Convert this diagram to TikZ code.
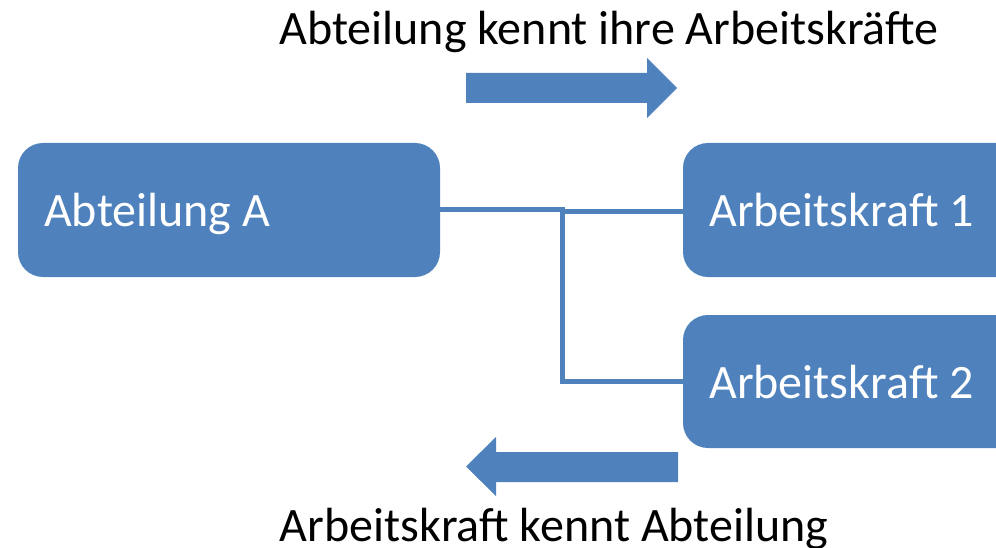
\documentclass[tikz,border=0pt]{standalone}
\usepackage{fontspec}
\setmainfont{Carlito}
\definecolor{officeblue}{HTML}{4F81BD}
\begin{document}
\begin{tikzpicture}[x=1pt,y=-1pt,
  box/.style={fill=officeblue,draw=none,rounded corners=25pt,inner sep=0pt},
  boxlabel/.style={anchor=base west,inner sep=0pt,text=white,font=\fontsize{48}{58}\selectfont},
  caption/.style={anchor=base,inner sep=0pt,text=black,font=\fontsize{48}{58}\selectfont},
  conn/.style={draw=officeblue,line width=5pt},
  blockarrow/.style={fill=officeblue,draw=none}]
\clip (0,0) rectangle (996,548);
\useasboundingbox (0,0) rectangle (996,548);
% boxes
\node[box,minimum width=422pt,minimum height=134pt] (A) at (229,210) {};
\node[box,minimum width=360pt,minimum height=134pt] (w1) at (863,210) {};
\node[box,minimum width=360pt,minimum height=133pt] (w2) at (863,381.5) {};
\node[boxlabel] (tA) at (44,227) {Abteilung A};
\node[boxlabel] (t1) at (709,227) {Arbeitskraft 1};
\node[boxlabel] (t2) at (709,398) {Arbeitskraft 2};
% connectors
\coordinate (j) at (562.5,210);
\draw[conn] (A.east) -- ([xshift=2.5pt]j);
\draw[conn] ([yshift=-2pt]j) -- ([yshift=-2pt]w1.west);
\draw[conn] ([yshift=2.5pt]j) |- (w2.west);
% block arrows
\fill[blockarrow] (466,73) -- (647,73) -- (647,58) -- (677,88) -- (647,118) -- (647,103) -- (466,103) -- cycle;
\fill[blockarrow] (678,452) -- (496,452) -- (496,437) -- (466,466.5) -- (496,496) -- (496,482) -- (678,482) -- cycle;
% captions
\node[caption] (top) at (609,45) {Abteilung kennt ihre Arbeitskräfte};
\node[caption] (bot) at (554,541) {Arbeitskraft kennt Abteilung};
\end{tikzpicture}
\end{document}
